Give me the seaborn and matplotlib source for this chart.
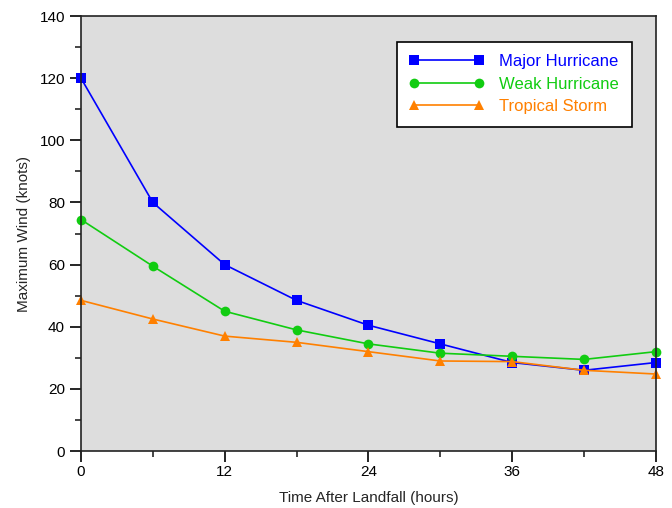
import numpy as np
import pandas as pd
import matplotlib
matplotlib.use('Agg')
import matplotlib.pyplot as plt
from matplotlib.ticker import MultipleLocator
import seaborn as sns

# Hours after landfall
HOURS = [0, 6, 12, 18, 24, 30, 36, 42, 48]

# Maximum wind (knots)
MAJOR = [120, 80, 60, 48.5, 40.5, 34.5, 28.5, 26, 28.5]
WEAK = [74.5, 59.5, 45, 39, 34.5, 31.5, 30.5, 29.5, 32]
TROPICAL = [48.5, 42.5, 37, 35, 32, 29, 28.8, 26, 24.8]

SERIES = ['Major Hurricane', 'Weak Hurricane', 'Tropical Storm']
COLORS = ['#0000ff', '#11cc11', '#ff8000']
MARKERS = ['s', 'o', '^']

df = pd.DataFrame({
    'hours': HOURS * 3,
    'wind': MAJOR + WEAK + TROPICAL,
    'series': [s for s in SERIES for _ in HOURS],
})

sns.set_style('white')
plt.rcParams['font.family'] = ['Liberation Sans', 'DejaVu Sans']

fig = plt.figure(figsize=(6.72, 5.08), dpi=100)
ax = fig.add_axes([0.1205, 0.112, 0.8555, 0.8565])
ax.set_facecolor('#dddddd')

sns.lineplot(data=df, x='hours', y='wind', hue='series', style='series',
             hue_order=SERIES, style_order=SERIES, palette=COLORS,
             markers=MARKERS, dashes=False, markersize=7, linewidth=1.2,
             markeredgewidth=0, ax=ax, clip_on=False)

ax.set_xlim(0, 48)
ax.set_ylim(0, 140)
ax.xaxis.set_major_locator(MultipleLocator(12))
ax.xaxis.set_minor_locator(MultipleLocator(6))
ax.yaxis.set_major_locator(MultipleLocator(20))
ax.yaxis.set_minor_locator(MultipleLocator(10))
ax.tick_params(which='major', direction='out', length=8, width=1.2,
               labelsize=11, colors='black', left=True, bottom=True)
ax.tick_params(axis='x', which='major', pad=2)
ax.tick_params(which='minor', direction='out', length=4.5, width=1.2,
               left=True, bottom=True)
for sp in ax.spines.values():
    sp.set_color('#222222')
    sp.set_linewidth(1.2)

ax.set_xlabel('Time After Landfall (hours)', fontsize=11, labelpad=9)
ax.set_ylabel('Maximum Wind (knots)', fontsize=11, labelpad=6)

handles, labels = ax.get_legend_handles_labels()
leg = ax.legend(handles, labels, loc='upper right', bbox_to_anchor=(0.958, 0.941),
                borderaxespad=0, numpoints=2, handlelength=4.5, fontsize=12,
                frameon=True, fancybox=False, edgecolor='black',
                framealpha=1, labelspacing=0.45, handletextpad=0.9,
                borderpad=0.75)
leg.get_frame().set_linewidth(1.2)
for txt, c in zip(leg.get_texts(), COLORS):
    txt.set_color(c)

fig.savefig('out.png', dpi=100)
